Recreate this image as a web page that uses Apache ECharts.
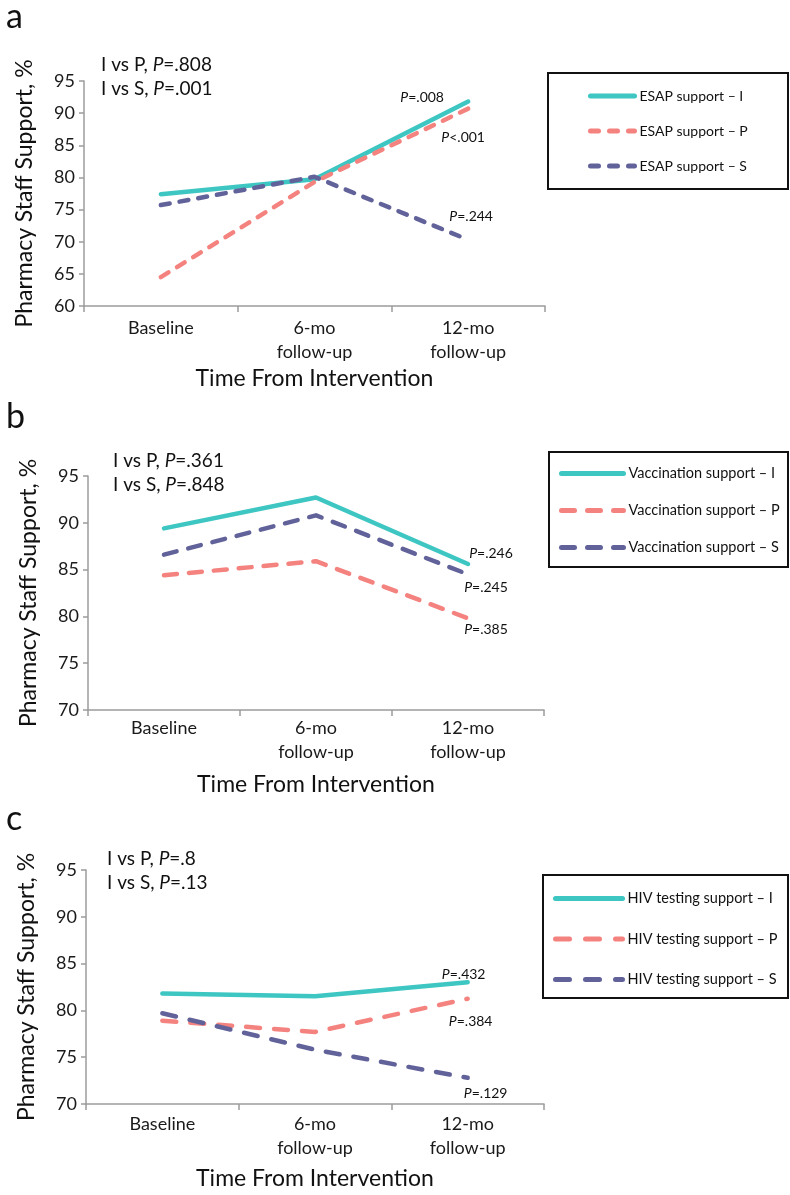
<!DOCTYPE html>
<html>
<head>
<meta charset="utf-8">
<script src="https://cdn.jsdelivr.net/npm/echarts@6/dist/echarts.min.js"></script>
<style>
html,body{margin:0;padding:0;background:#fff;}
#main{width:790px;height:1195px;}
</style>
</head>
<body>
<div id="main"></div>
<script>
// ---- data ----
const categories = ['Baseline', '6-mo\nfollow-up', '12-mo\nfollow-up'];
const esapI = [77.4, 79.7, 91.8];
const esapP = [64.5, 79.3, 90.7];
const esapS = [75.7, 80.1, 70.3];
const vaccI = [89.4, 92.7, 85.6];
const vaccP = [84.4, 85.9, 79.8];
const vaccS = [86.6, 90.8, 84.5];
const hivI = [81.8, 81.5, 83.0];
const hivP = [78.9, 77.7, 81.25];
const hivS = [79.7, 75.8, 72.8];
const namesA = ['ESAP support \u2013 I', 'ESAP support \u2013 P', 'ESAP support \u2013 S'];
const namesB = ['Vaccination support \u2013 I', 'Vaccination support \u2013 P', 'Vaccination support \u2013 S'];
const namesC = ['HIV testing support \u2013 I', 'HIV testing support \u2013 P', 'HIV testing support \u2013 S'];
const endPA = ['=.008', '<.001', '=.244'];
const endPB = ['=.246', '=.385', '=.245'];
const endPC = ['=.432', '=.384', '=.129'];
const compA = ['.808', '.001'];
const compB = ['.361', '.848'];
const compC = ['.8', '.13'];
const yMinA = 60, yMinBC = 70, yMax = 95, yStep = 5;

// ---- style ----
const FONT = 'Lato';
const cI = '#3ec6c2', cP = '#f4827f', cS = '#62629a';
const axisGray = '#9c9c9c';

const chart = echarts.init(document.getElementById('main'), null, {renderer: 'canvas'});

const grids = [
  {left: 84, top: 81, width: 461, height: 225},
  {left: 88, top: 476, width: 456, height: 234},
  {left: 86, top: 870, width: 458, height: 234}
];
const labelMargins = [10, 6, 8];
const nameGaps = [61, 63, 63];
const dashes = [[9, 10], [13, 12], [14, 14]];

function xAxis(i) {
  return {
    type: 'category', gridIndex: i, data: categories, boundaryGap: true,
    axisLine: {lineStyle: {color: axisGray, width: 1.5}},
    axisTick: {show: true, length: 6, lineStyle: {color: axisGray, width: 1.5}},
    axisLabel: {color: '#1a1a1a', fontSize: 18, fontFamily: FONT, lineHeight: 24, margin: labelMargins[i]},
    name: 'Time From Intervention', nameLocation: 'middle', nameGap: nameGaps[i],
    nameTextStyle: {color: '#111', fontSize: 23, fontFamily: FONT}
  };
}
function yAxis(i, min) {
  return {
    type: 'value', gridIndex: i, min: min, max: yMax, interval: yStep,
    splitLine: {show: false},
    axisLine: {show: true, lineStyle: {color: axisGray, width: 1.5}},
    axisTick: {show: true, length: 5, lineStyle: {color: axisGray, width: 1.5}},
    axisLabel: {color: '#1a1a1a', fontSize: 18, fontFamily: FONT, margin: 9},
    name: 'Pharmacy Staff Support, %', nameLocation: 'middle', nameGap: 48,
    nameTextStyle: {color: '#111', fontSize: 23, fontFamily: FONT}
  };
}

function mkSeries(i, name, data, color, dashed, pText, off) {
  return {
    type: 'line', name: name, xAxisIndex: i, yAxisIndex: i, data: data,
    symbol: 'none', silent: true, animation: false,
    lineStyle: {color: color, width: 4.5, type: dashed ? dashes[i] : 'solid', cap: 'round', join: 'round'},
    itemStyle: {color: color},
    endLabel: {
      show: true, distance: 0, align: 'center', verticalAlign: 'middle', offset: off,
      formatter: '{i|P}' + pText,
      color: '#111', fontSize: 14, fontFamily: FONT,
      rich: {i: {fontStyle: 'italic', fontSize: 14, fontFamily: FONT, color: '#111'}}
    }
  };
}

const series = [
  mkSeries(0, namesA[0], esapI, cI, false, endPA[0], [-46, -4]),
  mkSeries(0, namesA[1], esapP, cP, true, endPA[1], [-5, 29]),
  mkSeries(0, namesA[2], esapS, cS, true, endPA[2], [3, -23]),
  mkSeries(1, namesB[0], vaccI, cI, false, endPB[0], [23, -10]),
  mkSeries(1, namesB[1], vaccP, cP, true, endPB[1], [18, 11]),
  mkSeries(1, namesB[2], vaccS, cS, true, endPB[2], [18, 13]),
  mkSeries(2, namesC[0], hivI, cI, false, endPC[0], [-4, -8]),
  mkSeries(2, namesC[1], hivP, cP, true, endPC[1], [3, 23]),
  mkSeries(2, namesC[2], hivS, cS, true, endPC[2], [18, 16])
];

function legend(names, left, top, w, gap, dash, fs) {
  return {
    data: names.map(function (n, k) {
      return {name: n, lineStyle: {width: 5, cap: 'round', type: k === 0 ? 'solid' : dash}};
    }),
    orient: 'vertical', left: left, top: top, itemWidth: w, itemHeight: 14,
    itemGap: gap, padding: 0, selectedMode: false,
    itemStyle: {opacity: 0, borderWidth: 0},
    textStyle: {color: '#111', fontSize: fs, fontFamily: FONT}
  };
}

function compText(x, y, vals) {
  return {
    type: 'text', left: x, top: y,
    style: {
      text: '{n|I vs P, }{i|P}{n|=' + vals[0] + '}\n{n|I vs S, }{i|P}{n|=' + vals[1] + '}',
      rich: {
        n: {fontSize: 19, fontFamily: FONT, fill: '#111', lineHeight: 24},
        i: {fontSize: 19, fontFamily: FONT, fill: '#111', fontStyle: 'italic', lineHeight: 24}
      }
    }
  };
}
function box(x, y, w, h) {
  return {type: 'rect', shape: {x: x, y: y, width: w, height: h},
    style: {fill: 'none', stroke: '#111', lineWidth: 2}, z: 100};
}
function letter(t, x, y) {
  return {type: 'text', left: x, top: y, style: {text: t, fontSize: 34, fontFamily: FONT, fill: '#111'}};
}

chart.setOption({
  backgroundColor: '#fff',
  animation: false,
  grid: grids,
  xAxis: [xAxis(0), xAxis(1), xAxis(2)],
  yAxis: [yAxis(0, yMinA), yAxis(1, yMinBC), yAxis(2, yMinBC)],
  legend: [
    legend(namesA, 588, 89, 44, 21, [8, 11], 14),
    legend(namesB, 559, 466, 62, 22, [13, 13], 14.5),
    legend(namesC, 553, 891, 67, 25.5, [14, 16], 14.5)
  ],
  series: series,
  graphic: [
    letter('a', 6, 0), letter('b', 6, 400), letter('c', 6, 802),
    compText(101, 55, compA), compText(113, 451, compB), compText(107, 849, compC),
    box(548, 73, 240, 116), box(549, 452, 239, 115), box(543, 875, 245, 123)
  ]
});
</script>
</body>
</html>
